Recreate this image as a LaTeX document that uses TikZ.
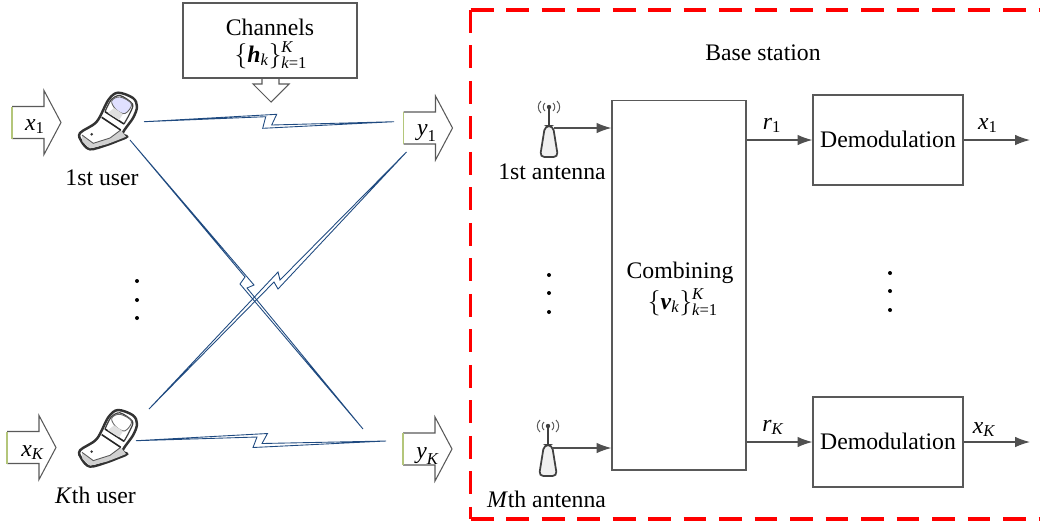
\documentclass[tikz,border=0pt]{standalone}
\usepackage{amsmath, amssymb}
\usepackage{fontspec}
\setmainfont{Liberation Serif}
\usetikzlibrary{arrows.meta}
\newcommand{\sym}[2]{$\textit{#1}_{#2}$}
\definecolor{edgegray}{HTML}{595959}
\definecolor{radioblue}{HTML}{1F4A80}
\definecolor{edgegreen}{HTML}{B4C67A}
\tikzset{
  lab/.style={inner sep=0pt, anchor=base, font=\fontsize{13.5}{15}\selectfont},
  boxnode/.style={draw=edgegray, line width=0.65pt, inner sep=0pt},
  demodbox/.style={boxnode, minimum width=3cm, minimum height=1.8cm, text height=8pt, text depth=0pt, font=\fontsize{13.5}{15}\selectfont},
  link/.style={draw=edgegray!90!black, line width=0.7pt, -{Latex[length=8.5pt,width=6pt]}},
  radio/.style={draw=radioblue, line width=0.5pt, line join=miter},
  redframe/.style={red, line width=1.8pt, dash pattern=on 13pt off 7.2pt},
  pics/blockarrow/.style={code={
      \draw[edgegray, line width=0.6pt] (0,16) -- (32,16) -- (32,32) -- (49,0) -- (32,-32) -- (32,-16) -- (0,-16);
      \draw[edgegreen, line width=0.7pt] (0,-16) -- (0,16);
  }},
  pics/phonepic/.style={code={
      \draw[black!80, line width=1.4pt, fill=white] plot[smooth cycle, tension=0.55] coordinates {(10,-27.3) (25,-22) (29,-13.3) (25,-2) (14.7,13) (19,16.7) (10,20.7) (-1.3,25) (-18,29.3) (-26.3,21.7) (-28,13) (-11.3,1.7) (0.3,-20)};
      % lower lip
      \fill[black!18] (-26,15) -- (-14.7,23.3) -- (2,18) -- (12.7,10) -- (18,16.7) -- (10,20) -- (-1.3,24.3) -- (-18,28.3) -- (-25.5,21.7) -- cycle;
      \draw[black!65, line width=0.5pt] (-26,15) -- (-14.7,23.3) -- (2,18) -- (12.7,10);
      % upper panel and screen
      \draw[black!75, line width=0.7pt] plot[smooth, tension=0.5] coordinates {(-3,-8.3) (3,-20) (12,-24.5) (24.5,-16) (22,-7) (16,4)};
      \draw[black!60, line width=0.5pt, fill=#1] plot[smooth cycle, tension=0.6] coordinates {(3.7,-19) (12,-23) (23.5,-16) (17,-6.5) (8,-10.5)};
      % hinge and key pad
      \draw[black!85, line width=0.9pt] (-6.3,-2.7) -- (12.7,10) (-3,-8.3) -- (16,4);
      \fill[black!12] (0,-7) -- (6,-12) -- (15,-6) -- (11,0) -- cycle;
      \fill[black!80] (-16.3,14.3) circle (1.4);
  }},
  pics/antennapic/.style={code={
      \draw[black!75, line width=1pt] (0,0) -- (0,20);
      \fill[black!75] (0,0) circle (2.2);
      \draw[black!65, line width=0.55pt] (-4,-4) to[bend right=50] (-4,4) (4,-4) to[bend left=50] (4,4);
      \draw[black!65, line width=0.55pt] (-8,-6) to[bend right=50] (-8,6) (8,-6) to[bend left=50] (8,6);
      \draw[black!75, line width=1pt, fill=black!6, rounded corners=2.5pt] (-4,19) -- (4,19) -- (9,50) -- (-9,50) -- cycle;
  }}
}

\begin{document}
\begin{tikzpicture}[x=0.02cm, y=-0.02cm]
        \useasboundingbox (0,0) rectangle (1040,522);
        % base station frame, open at the right border
        \draw[redframe] (470.7,10) -- (1040,10);
        \draw[redframe] (470.7,10) -- (470.7,519);
        \draw[redframe] (470.7,519) -- (1040,519);
        \node[lab] (basestation) at (763,60) {Base station};

        % channels box with its down arrow
        \node[boxnode, minimum width=3.48cm, minimum height=1.5cm] (channels) at (270,40.5) {};
        \node[lab] (chantitle) at (270,35) {Channels};
        \node[lab] (chansym) at (271,62) {$\{\textbf{\textit{h}}_{\textit{k}}\}^{\textit{K}}_{\textit{k}\textup{=1}}$};
        \draw[edgegray, line width=0.6pt] (262,78) -- (262,84) -- (253,84) -- (271,102) -- (289,84) -- (279,84) -- (279,78);

        % input and output arrows
        \pic at (12,122.5) {blockarrow};
        \pic at (403.5,128) {blockarrow};
        \pic at (7,447.5) {blockarrow};
        \pic at (403,449) {blockarrow};
        \node[lab] (xone) at (35,130) {\sym{x}{\textup{1}}};
        \node[lab] (yone) at (427,135) {\sym{y}{\textup{1}}};
        \node[lab] (xkay) at (32.5,456) {\sym{x}{\textit{K}}};
        \node[lab] (ykay) at (427.5,458) {\sym{y}{\textit{K}}};

        % users
        \pic at (108,120) {phonepic={blue!12}};
        \pic at (108,437.3) {phonepic={white}};
        \node[lab] (userone) at (102,185) {1st user};
        \node[lab] (userkay) at (95.5,503) {\textit{K}th user};
        \foreach \ypos in {281,300,318}
          \fill (137,\ypos) circle (2);

        % radio links
        \coordinate (txone) at (144,121.7);
        \coordinate (rxone) at (394,121.7);
        \coordinate (txcross) at (130,140);
        \coordinate (rxcross) at (363,429);
        \coordinate (txkay) at (149,409);
        \coordinate (rxkay) at (406.5,152);
        \coordinate (txbottom) at (136,440.7);
        \coordinate (rxbottom) at (386,441);
        \draw[radio] (txone) -- (265.7,116.7) -- (262.7,128.3) -- (rxone) -- (271.7,125) -- (276.7,114.3) -- cycle;
        \draw[radio] (txcross) -- (245,277) -- (240,284) -- (rxcross) -- (247,288) -- (254,285) -- cycle;
        \draw[radio] (txkay) -- (274,282) -- (278,289) -- (rxkay) -- (280,280) -- (278,272) -- cycle;
        \draw[radio] (txbottom) -- (257,437) -- (253,447.5) -- (rxbottom) -- (262,443.5) -- (267.5,433.5) -- cycle;

        % antennas
        \pic at (549,107) {antennapic};
        \pic at (548,426) {antennapic};
        \coordinate (antone) at (554,128);
        \coordinate (antkay) at (552,448);
        \node[lab] (antonelab) at (552,179) {1st antenna};
        \node[lab] (antkaylab) at (546.5,507) {\textit{M}th antenna};
        \foreach \ypos in {275,293,312}
          \fill (549,\ypos) circle (2);

        % combining block
        \node[boxnode, minimum width=2.68cm, minimum height=7.386cm] (combine) at (679,285.4) {};
        \node[lab] (combtitle) at (680,278) {Combining};
        \node[lab] (combsym) at (683,309) {$\{\textbf{\textit{v}}_{\textit{k}}\}^{\textit{K}}_{\textit{k}\textup{=1}}$};
        \draw[link] (antone) -- (combine.west |- antone);
        \draw[link] (antkay) -- (combine.west |- antkay);

        % demodulation blocks
        \node[demodbox] (demodone) at (888,140) {Demodulation};
        \node[demodbox] (demodkay) at (888,442) {Demodulation};
        \coordinate (outone) at (1030,140);
        \coordinate (outkay) at (1030,442);
        \draw[link] (combine.east |- demodone.west) -- (demodone.west);
        \draw[link] (combine.east |- demodkay.west) -- (demodkay.west);
        \draw[link] (demodone.east) -- (outone);
        \draw[link] (demodkay.east) -- (outkay);
        \node[lab] (rone) at (772,129) {\sym{r}{\textup{1}}};
        \node[lab] (rkay) at (773,431) {\sym{r}{\textit{K}}};
        \node[lab] (xoutone) at (988,129) {\sym{x}{\textup{1}}};
        \node[lab] (xoutkay) at (984,433) {\sym{x}{\textit{K}}};
        \foreach \ypos in {273,291,310}
          \fill (890,\ypos) circle (2);
\end{tikzpicture}
\end{document}
